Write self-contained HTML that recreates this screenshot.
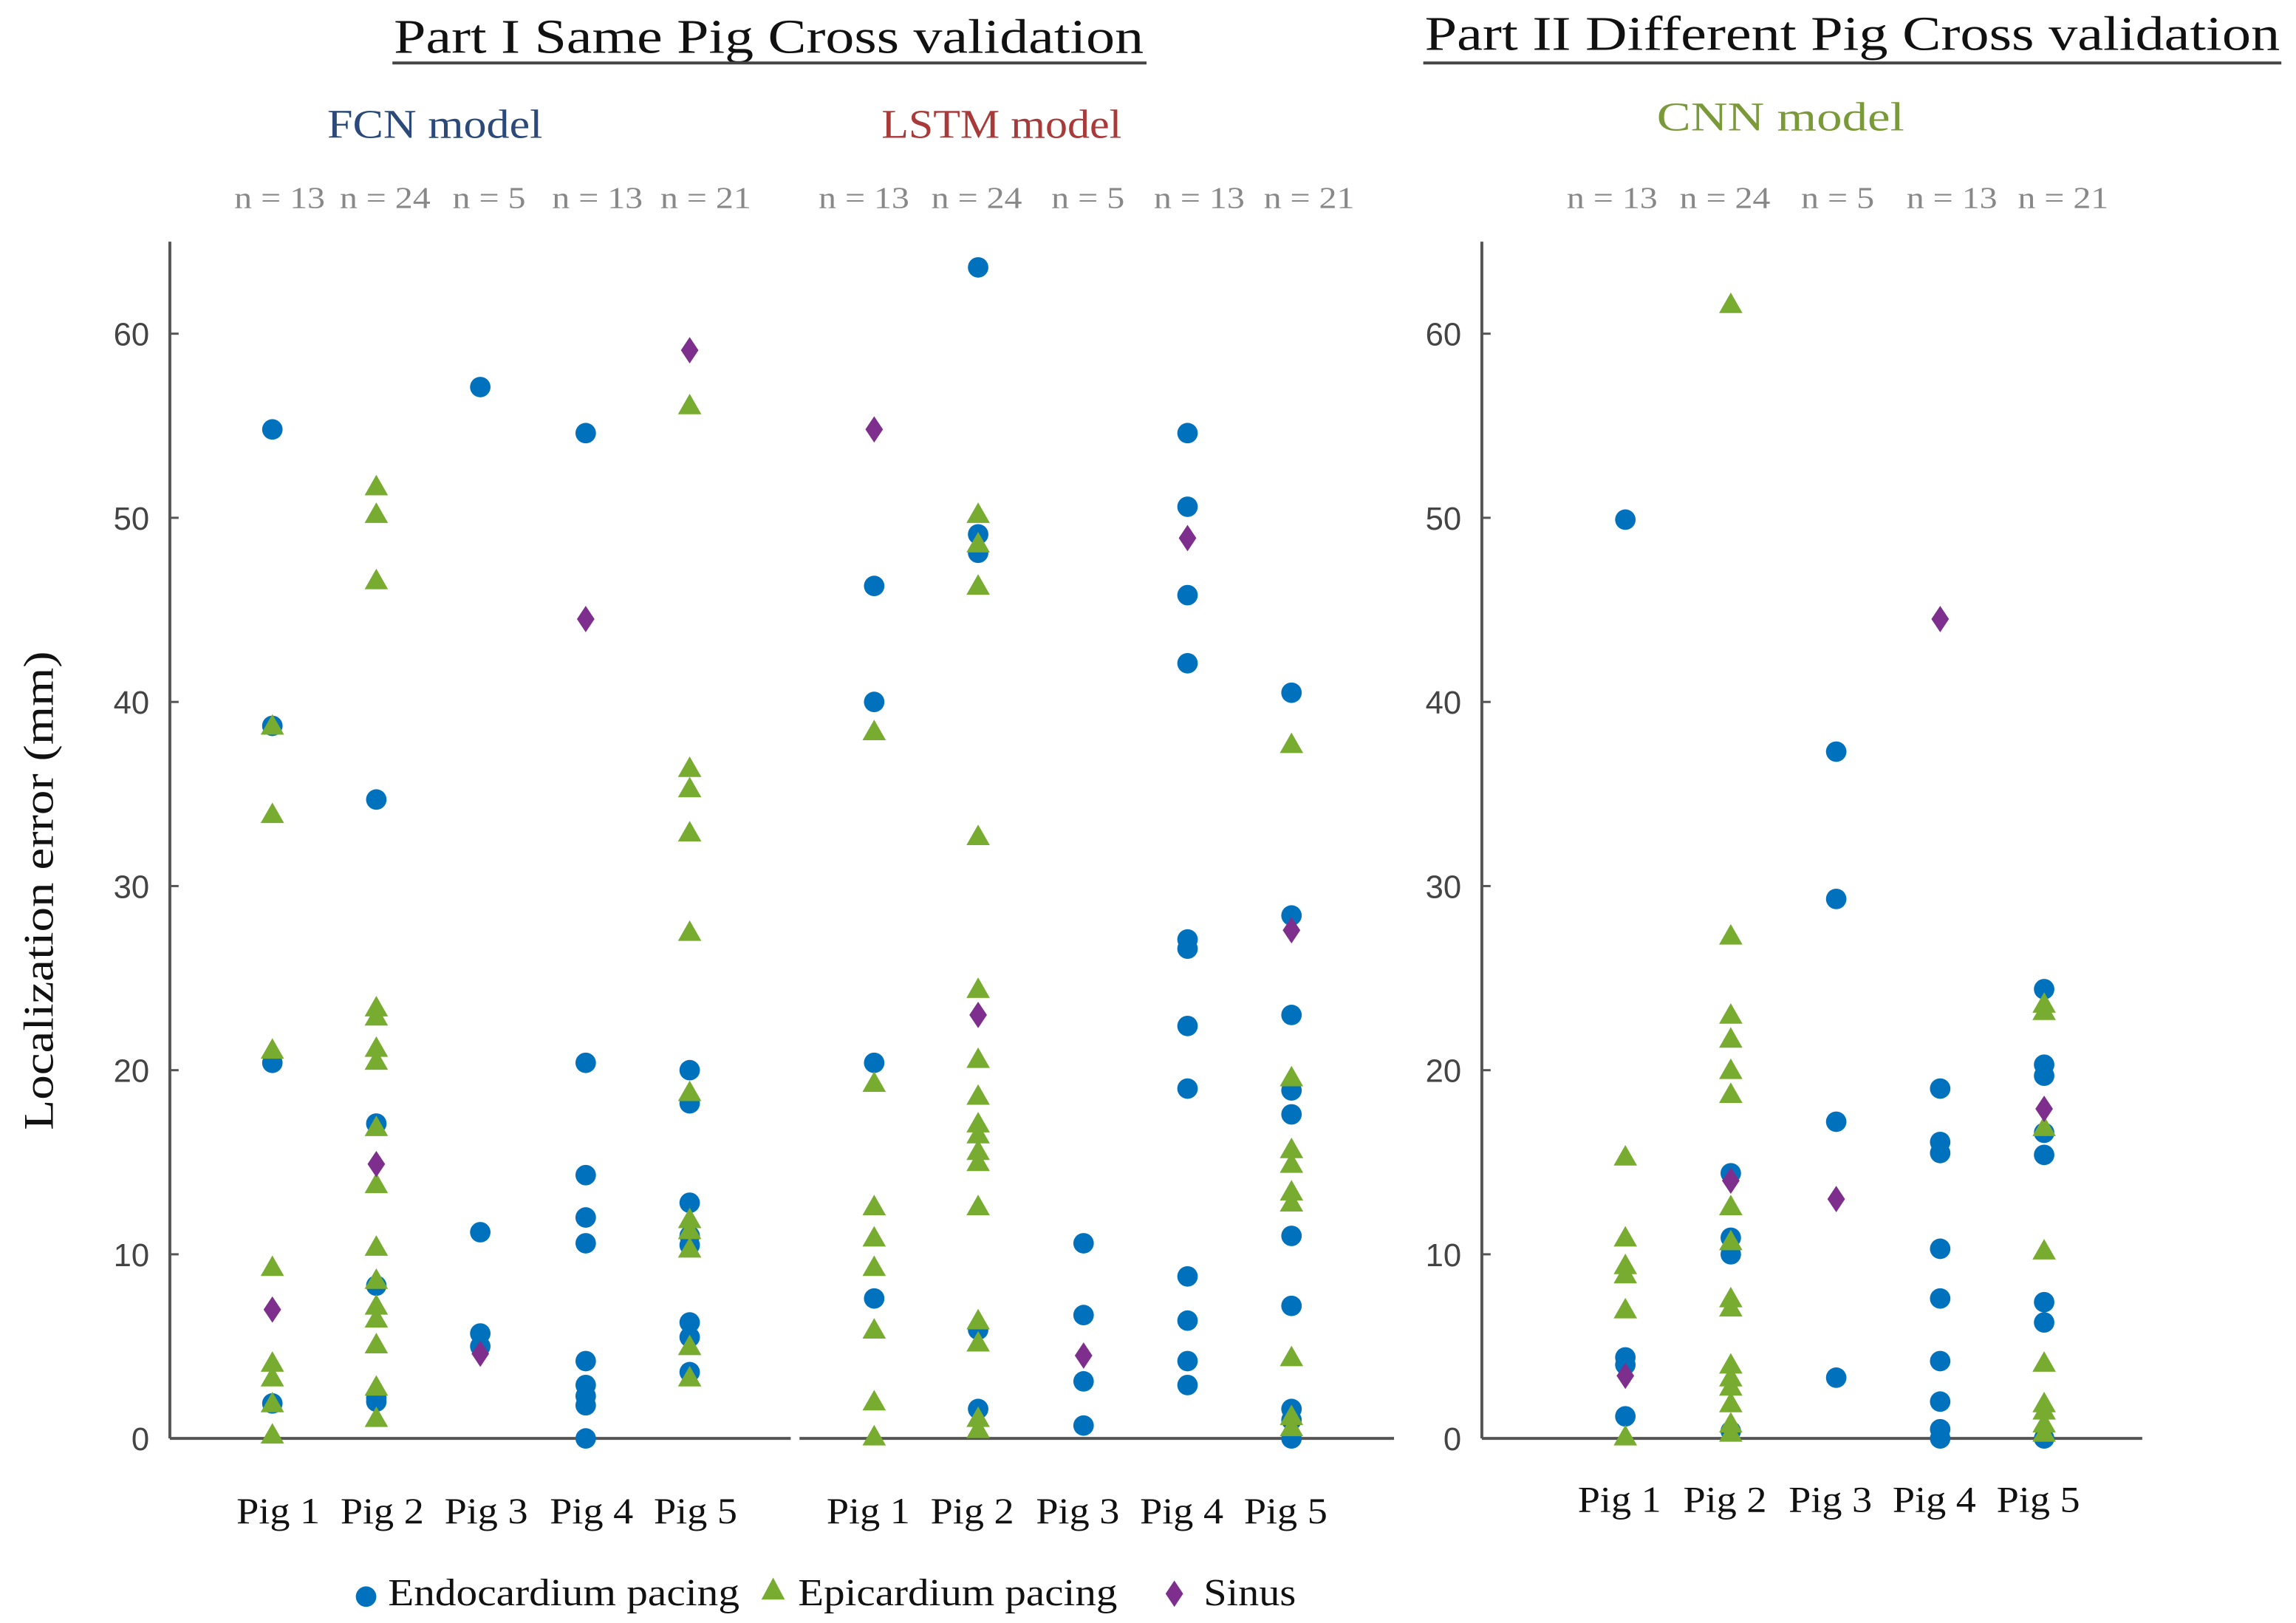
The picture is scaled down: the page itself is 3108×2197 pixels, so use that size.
<!DOCTYPE html>
<html><head><meta charset="utf-8"><style>
html,body{margin:0;padding:0;background:#fff;}
svg{display:block;}
.serif{font-family:"Liberation Serif",serif;}
.sans{font-family:"Liberation Sans",sans-serif;}
</style></head><body>
<svg id="chart" width="3108" height="2197" viewBox="0 0 1568 1108" preserveAspectRatio="none" xmlns="http://www.w3.org/2000/svg">
<text class="serif" x="525" y="36" font-size="33" text-anchor="middle" fill="#111" textLength="512" lengthAdjust="spacingAndGlyphs">Part I Same Pig Cross validation</text>
<line x1="268" y1="43" x2="783" y2="43" stroke="#444" stroke-width="2"/>
<text class="serif" x="1265" y="34" font-size="33" text-anchor="middle" fill="#111" textLength="584" lengthAdjust="spacingAndGlyphs">Part II Different Pig Cross validation</text>
<line x1="972" y1="43" x2="1558" y2="43" stroke="#444" stroke-width="2"/>
<text class="serif" x="297" y="94" font-size="28" text-anchor="middle" fill="#2b4a7a" textLength="147" lengthAdjust="spacingAndGlyphs">FCN model</text>
<text class="serif" x="684" y="94" font-size="28" text-anchor="middle" fill="#a83a3a" textLength="164" lengthAdjust="spacingAndGlyphs">LSTM model</text>
<text class="serif" x="1216" y="89" font-size="28" text-anchor="middle" fill="#7a9a3a" textLength="169" lengthAdjust="spacingAndGlyphs">CNN model</text>
<text class="serif" font-size="29" fill="#111" text-anchor="middle" transform="translate(36,608) rotate(-90)" textLength="327" lengthAdjust="spacingAndGlyphs">Localization error (mm)</text>
<g id="panels"></g>
<g>
<circle cx="250" cy="1090" r="7" fill="#0072bd"/>
<text class="serif" x="265" y="1096" font-size="26" fill="#111" textLength="240" lengthAdjust="spacingAndGlyphs">Endocardium pacing</text>
<polygon points="528,1077 536,1092 520,1092" fill="#77ac30"/>
<text class="serif" x="545" y="1096" font-size="26" fill="#111" textLength="218" lengthAdjust="spacingAndGlyphs">Epicardium pacing</text>
<polygon points="802,1079 808,1088 802,1097 796,1088" fill="#7e2f8e"/>
<text class="serif" x="822" y="1096" font-size="26" fill="#111" textLength="63" lengthAdjust="spacingAndGlyphs">Sinus</text>
</g>
</svg>
<script>
const pigs = ["Pig 1","Pig 2","Pig 3","Pig 4","Pig 5"];
const counts = ["n = 13","n = 24","n = 5","n = 13","n = 21"];
const yTicks = [0,10,20,30,40,50,60];

const fcnEndo = [[54.8,38.7,20.4,1.9],[34.7,17.1,8.3,2.2,2.0],[57.1,11.2,5.7,5.0],[54.6,20.4,14.3,12.0,10.6,4.2,2.9,2.3,1.8,0.0],[20.0,18.2,12.8,11.0,10.5,6.3,5.5,3.6]];
const fcnEpi = [[38.7,33.9,21.1,9.3,4.1,3.3,1.9,0.2],[51.7,50.2,46.6,23.4,22.9,21.2,20.5,16.9,13.8,10.4,8.6,7.2,6.5,5.1,2.8,1.1],[],[],[56.1,36.4,35.3,32.9,27.5,18.8,11.9,11.3,10.3,5.0,3.3]];
const fcnSinus = [[7.0],[14.9],[4.6],[44.5],[59.1]];

const lstmEndo = [[46.3,40.0,20.4,7.6],[63.6,49.1,48.1,5.9,1.6],[10.6,6.7,3.1,0.7],[54.6,50.6,45.8,42.1,27.1,26.6,22.4,19.0,8.8,6.4,4.2,2.9],[40.5,28.4,23.0,18.9,17.6,11.0,7.2,1.6,1.0,0.0]];
const lstmEpi = [[38.4,19.3,12.6,10.9,9.3,5.9,2.0,0.1],[50.2,48.6,46.3,32.7,24.4,20.6,18.6,17.1,16.5,15.6,15.0,12.6,6.4,5.2,1.1,0.5],[],[],[37.7,19.6,15.7,14.9,13.4,12.8,4.4,1.2,0.6]];
const lstmSinus = [[54.8],[23.0],[4.5],[48.9],[27.6]];

const cnnEndo = [[49.9,4.4,4.0,1.2],[14.4,10.9,10.0,0.4],[37.3,29.3,17.2,3.3],[19.0,16.1,15.5,10.3,7.6,4.2,2.0,0.5,0.0],[24.4,20.3,19.7,16.6,15.4,7.4,6.3,0.0]];
const cnnEpi = [[15.3,10.9,9.4,8.9,7.0,0.1],[61.6,27.3,23.0,21.7,20.0,18.7,12.6,10.7,7.6,7.1,4.0,3.3,2.8,1.9,0.8,0.3],[],[],[23.6,23.2,16.9,10.2,4.1,1.9,1.5,0.8,0.3]];
const cnnSinus = [[3.4],[14.0],[13.0],[44.5],[17.9]];

const NS = "http://www.w3.org/2000/svg";
const root = document.getElementById("panels");
function mk(tag, attrs, parent){const e=document.createElementNS(NS,tag);for(const k in attrs)e.setAttribute(k,attrs[k]);(parent||root).appendChild(e);return e;}
const yScale = v => 982 - v*12.57;

const panels = [
 {name:"fcn", x0:116, x1:540, axis:true, cols:[186,257,328,400,471], lab:4, nx:[191,263,334,408,482], labelY:1040, nY:142, endo:fcnEndo, epi:fcnEpi, sinus:fcnSinus},
 {name:"lstm", x0:546, x1:952, axis:false, cols:[597,668,740,811,882], lab:-4, nx:[590,667,743,819,894], labelY:1040, nY:142, endo:lstmEndo, epi:lstmEpi, sinus:lstmSinus},
 {name:"cnn", x0:1012, x1:1463, axis:true, cols:[1110,1182,1254,1325,1396], lab:-4, nx:[1101,1178,1255,1333,1409], labelY:1032, nY:142, endo:cnnEndo, epi:cnnEpi, sinus:cnnSinus}
];

panels.forEach(p=>{
  const g = mk("g",{});
  
  
  const xl = mk("line",{x1:p.x0,y1:yScale(0),x2:p.x1,y2:yScale(0),stroke:"#555","stroke-width":2},g);
  
  
  if(p.axis){
    const yl = mk("line",{x1:p.x0,y1:165,x2:p.x0,y2:yScale(0),stroke:"#555","stroke-width":2},g);
    
    
    yTicks.forEach(t=>{
      const tk = mk("line",{x1:p.x0,y1:yScale(t),x2:p.x0+6,y2:yScale(t),stroke:"#555","stroke-width":1.5},g);
      
      
      const tl = mk("text",{x:p.x0-14,y:yScale(t)+8,"font-size":22,"text-anchor":"end",fill:"#444",class:"sans"},g);
      tl.textContent = t;
      
      
    });
  }
  p.cols.forEach((cx,i)=>{
    const pl = mk("text",{x:cx+p.lab,y:p.labelY,"font-size":25,"text-anchor":"middle",fill:"#111",class:"serif",textLength:57,lengthAdjust:"spacingAndGlyphs"},g);
    pl.textContent = pigs[i];
    
    
    const nl = mk("text",{x:p.nx[i],y:p.nY,"font-size":21,"text-anchor":"middle",fill:"#888",class:"serif",textLength:(i==2?50:62),lengthAdjust:"spacingAndGlyphs"},g);
    nl.textContent = counts[i];
    
    
    p.endo[i].forEach(v=>{
      const c = mk("circle",{cx:cx,cy:yScale(v),r:7,fill:"#0072bd"},g);
      
      
    });
    p.epi[i].forEach(v=>{
      const y=yScale(v);
      const t = mk("polygon",{points:`${cx},${y-8} ${cx+8},${y+6} ${cx-8},${y+6}`,fill:"#77ac30"},g);
      
      
    });
    p.sinus[i].forEach(v=>{
      const y=yScale(v);
      const d = mk("polygon",{points:`${cx},${y-9} ${cx+6},${y} ${cx},${y+9} ${cx-6},${y}`,fill:"#7e2f8e"},g);
      
      
    });
  });
});
</script>
</body></html>
